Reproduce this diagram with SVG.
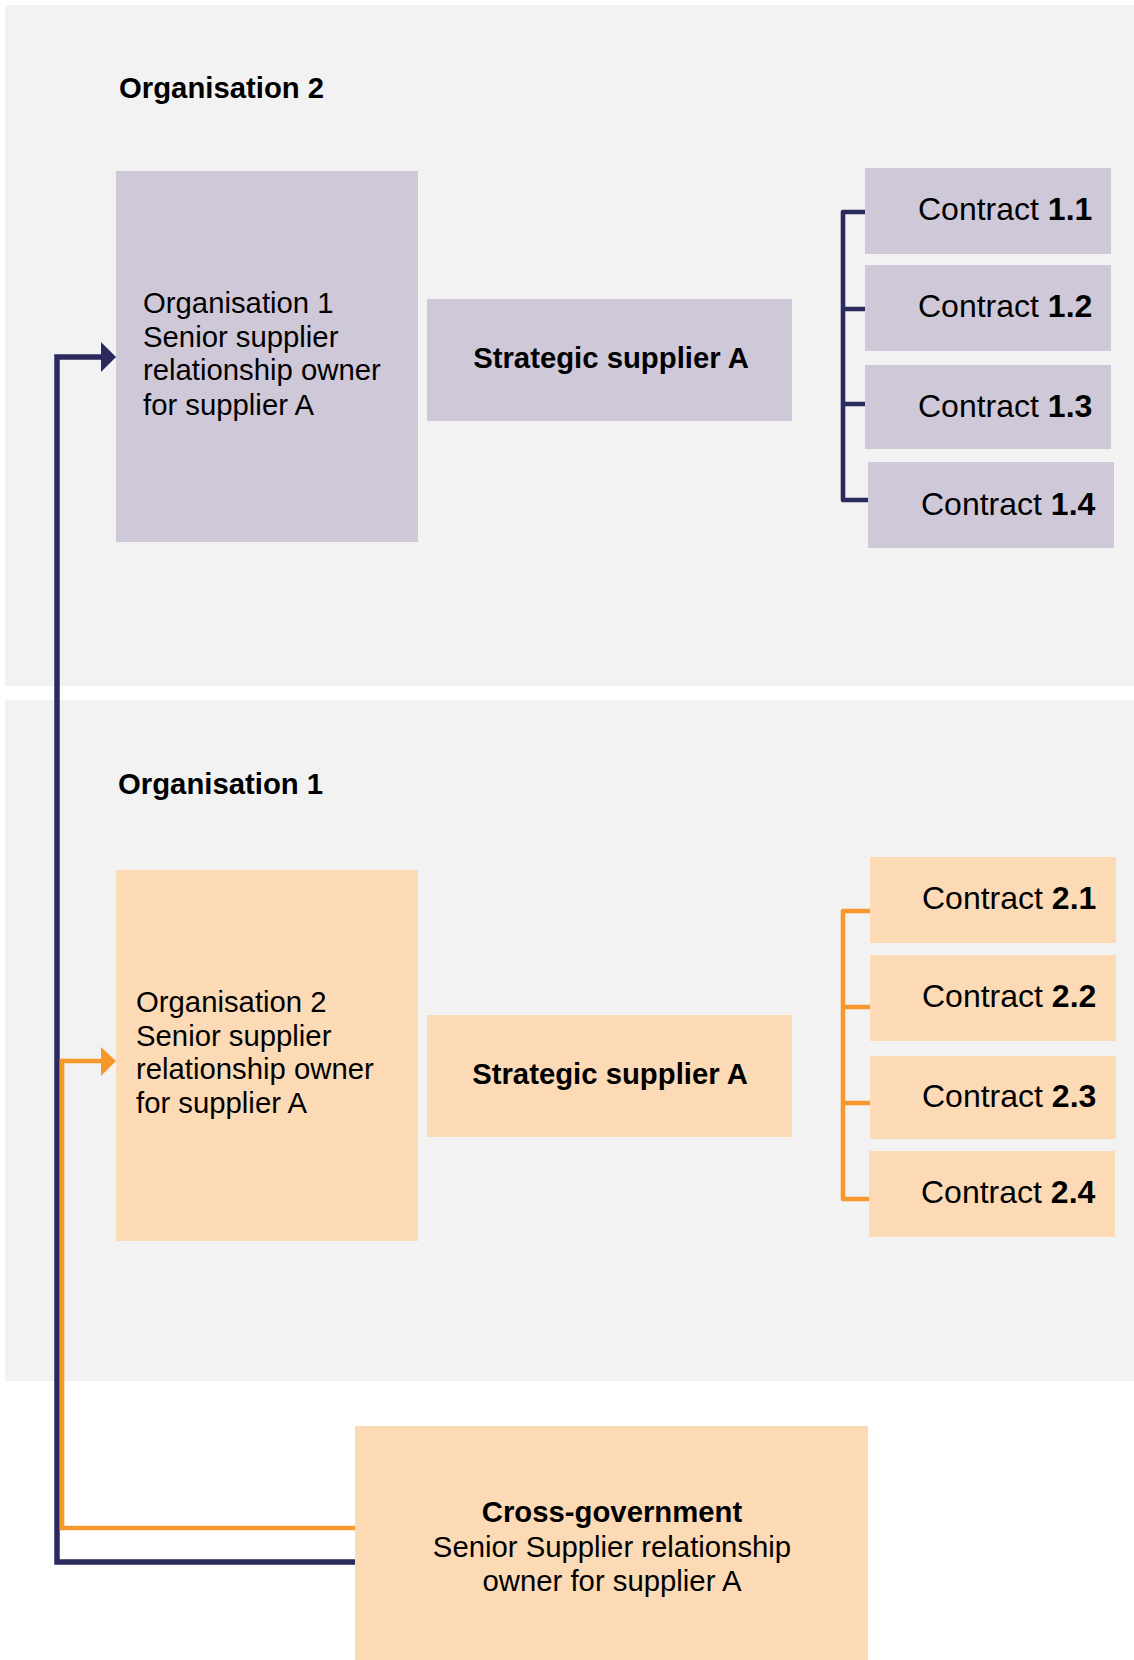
<svg xmlns="http://www.w3.org/2000/svg" width="1134" height="1660" viewBox="0 0 1134 1660">
<style>
.panel{fill:#F2F2F2}
.lav{fill:#CFC8D9}
.pch{fill:#FCDAB5}
text{font-family:"Liberation Sans",Arial,sans-serif;fill:#000}
.t{font-size:29.3px}
.tb{font-size:29.3px;font-weight:bold}
.c{font-size:32px}
.b{font-weight:bold}
.navy{fill:none;stroke:#2A2A5E;stroke-width:5.5;stroke-linejoin:miter}
.orng{fill:none;stroke:#F6982C;stroke-width:4.7;stroke-linejoin:miter}
.brn{fill:none;stroke:#2A2A5E;stroke-width:4.6;stroke-linejoin:round;stroke-linecap:butt}
.bro{fill:none;stroke:#F6982C;stroke-width:4.6;stroke-linejoin:round;stroke-linecap:butt}
</style>
<rect width="1134" height="1660" fill="#FFFFFF"/>
<g id="panel-org2">
<rect class="panel" x="5" y="5" width="1129" height="681"/>
<text class="tb" x="119" y="98">Organisation 2</text>
</g>
<g id="panel-org1">
<rect class="panel" x="5" y="700" width="1129" height="681"/>
<text class="tb" x="118" y="794">Organisation 1</text>
</g>
<g id="ssro-org1">
<rect class="lav" x="116" y="171" width="302" height="371"/>
<text class="t" x="143" y="313">Organisation 1</text>
<text class="t" x="143" y="347">Senior supplier</text>
<text class="t" x="143" y="380">relationship owner</text>
<text class="t" x="143" y="415">for supplier A</text>
</g>
<g id="supplier-top">
<rect class="lav" x="427" y="299" width="365" height="122"/>
<text class="tb" x="611" y="368" text-anchor="middle">Strategic supplier A</text>
</g>
<g id="c11"><rect class="lav" x="865" y="168" width="246" height="86"/><text class="c" x="918" y="220">Contract <tspan class="b">1.1</tspan></text></g>
<g id="c12"><rect class="lav" x="865" y="265" width="246" height="86"/><text class="c" x="918" y="317">Contract <tspan class="b">1.2</tspan></text></g>
<g id="c13"><rect class="lav" x="865" y="365" width="246" height="84"/><text class="c" x="918" y="417">Contract <tspan class="b">1.3</tspan></text></g>
<g id="c14"><rect class="lav" x="868" y="462" width="246" height="86"/><text class="c" x="921" y="515">Contract <tspan class="b">1.4</tspan></text></g>
<g id="ssro-org2">
<rect class="pch" x="116" y="870" width="302" height="371"/>
<text class="t" x="136" y="1012">Organisation 2</text>
<text class="t" x="136" y="1046">Senior supplier</text>
<text class="t" x="136" y="1079">relationship owner</text>
<text class="t" x="136" y="1113">for supplier A</text>
</g>
<g id="supplier-bottom">
<rect class="pch" x="427" y="1015" width="365" height="122"/>
<text class="tb" x="610" y="1084" text-anchor="middle">Strategic supplier A</text>
</g>
<g id="c21"><rect class="pch" x="870" y="857" width="246" height="86"/><text class="c" x="922" y="909">Contract <tspan class="b">2.1</tspan></text></g>
<g id="c22"><rect class="pch" x="870" y="955" width="246" height="86"/><text class="c" x="922" y="1007">Contract <tspan class="b">2.2</tspan></text></g>
<g id="c23"><rect class="pch" x="870" y="1056" width="246" height="83"/><text class="c" x="922" y="1107">Contract <tspan class="b">2.3</tspan></text></g>
<g id="c24"><rect class="pch" x="869" y="1151" width="246" height="86"/><text class="c" x="921" y="1203">Contract <tspan class="b">2.4</tspan></text></g>
<g id="cross-gov">
<rect class="pch" x="355" y="1426" width="513" height="240"/>
<text class="t" x="612" y="1522" text-anchor="middle" font-weight="bold">Cross-government</text>
<text class="t" x="612" y="1557" text-anchor="middle">Senior Supplier relationship</text>
<text class="t" x="612" y="1591" text-anchor="middle">owner for supplier A</text>
</g>
<g id="connectors">
<path class="brn" d="M865 212 H843 V500 H868 M843 309 H865 M843 404 H865"/>
<path class="bro" d="M870 911 H843 V1199 H869 M843 1007 H870 M843 1103 H870"/>
<path class="navy" d="M355 1562 H57 V357 H103"/>
<polygon points="101,342 116,357 101,372" fill="#2A2A5E"/>
<path class="orng" d="M355 1528 H62 V1061 H103"/>
<polygon points="101,1047 116,1061 101,1076" fill="#F6982C"/>
</g>
</svg>
